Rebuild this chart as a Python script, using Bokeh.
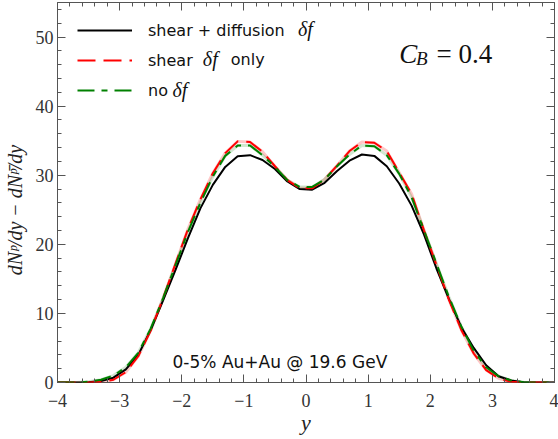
import numpy as np
from bokeh.plotting import figure
from bokeh.models import (Legend, LegendItem, Label, LinearAxis, FixedTicker,
                          Range1d)
from bokeh.embed import file_html
from bokeh.resources import INLINE

# ---- data ----
rapidity = [-4.0, -3.9, -3.7, -3.5, -3.3, -3.1, -2.9, -2.7, -2.5, -2.3, -2.1,
            -1.9, -1.7, -1.5, -1.3, -1.1, -0.9, -0.7, -0.5, -0.3, -0.1,
            0.1, 0.3, 0.5, 0.7, 0.9, 1.1, 1.3, 1.5, 1.7, 1.9,
            2.1, 2.3, 2.5, 2.7, 2.9, 3.1, 3.3, 3.5, 3.7, 3.9, 4.0]

shear_diffusion = [0.0, 0.0, 0.0, 0.05, 0.2, 0.7, 1.9, 4.0, 7.6, 11.9, 16.3,
                   20.9, 25.2, 28.6, 31.2, 32.75, 32.9, 32.2, 30.9, 29.1, 28.0,
                   27.9, 28.9, 30.6, 32.1, 33.0, 32.8, 31.3, 28.8, 25.6, 21.4,
                   16.5, 12.1, 8.0, 5.0, 2.5, 0.9, 0.3, 0.05, 0.0, 0.0, 0.0]

shear_only = [0.0, 0.0, 0.0, 0.0, 0.1, 0.4, 1.5, 3.8, 7.5, 12.2, 17.2,
              22.2, 26.5, 30.3, 33.2, 34.9, 34.8, 33.4, 31.3, 29.3, 28.1,
              28.1, 29.4, 31.4, 33.5, 34.8, 34.7, 33.5, 30.4, 27.3, 22.0,
              17.0, 12.0, 7.6, 4.2, 1.8, 0.6, 0.1, 0.0, 0.0, 0.0, 0.0]

no_df = [0.0, 0.0, 0.0, 0.1, 0.4, 1.0, 2.2, 4.3, 7.8, 12.2, 17.0,
         21.8, 26.0, 29.8, 32.8, 34.3, 34.3, 32.9, 31.2, 29.3, 28.3,
         28.3, 29.4, 31.3, 33.0, 34.3, 34.2, 32.9, 30.2, 26.8, 22.0,
         17.2, 12.4, 8.1, 4.6, 2.2, 0.9, 0.3, 0.05, 0.0, 0.0, 0.0]

x_ticks = [-4, -3, -2, -1, 0, 1, 2, 3, 4]
x_tick_labels = ["−4", "−3", "−2", "−1", "0", "1", "2", "3", "4"]
y_ticks = [0, 10, 20, 30, 40, 50]
y_tick_labels = ["0", "10", "20", "30", "40", "50"]

series_labels = ["shear + diffusion", "shear", "no"]

x_minor = [round(v, 1) for v in np.arange(-4.0, 4.001, 0.2)]
y_minor = list(range(0, 56, 2))

SERIF = "Liberation Serif"
SANS = "DejaVu Sans"
FRAME = "#555555"
TXT = "#111111"

p = figure(width=558, height=439, x_range=Range1d(-4, 4), y_range=Range1d(0, 55),
           output_backend="svg", toolbar_location=None,
           min_border_left=57, min_border_right=4, min_border_top=2,
           min_border_bottom=57)
p.xgrid.visible = False
p.ygrid.visible = False
p.outline_line_color = FRAME
p.outline_line_width = 1
p.background_fill_color = "white"
p.border_fill_color = "white"


def style_axis(ax, ticks, minor, labels=None):
    ax.ticker = FixedTicker(ticks=ticks, minor_ticks=minor)
    ax.axis_line_color = None
    ax.major_tick_line_color = FRAME
    ax.minor_tick_line_color = FRAME
    ax.major_tick_in = 8
    ax.major_tick_out = 0
    ax.minor_tick_in = 4
    ax.minor_tick_out = 0
    if labels is not None:
        ax.major_label_overrides = {t: l for t, l in zip(ticks, labels)}
        ax.major_label_text_font = SERIF
        ax.major_label_text_font_size = "18px"
        ax.major_label_text_color = "#333333"


xa = p.xaxis[0]
style_axis(xa, x_ticks, x_minor, x_tick_labels)
xa.major_label_standoff = 11
xa.axis_label = "y"
xa.axis_label_text_font = SERIF
xa.axis_label_text_font_style = "italic"
xa.axis_label_text_font_size = "22px"
xa.axis_label_text_color = "#222222"
xa.axis_label_standoff = 0

ya = p.yaxis[0]
style_axis(ya, y_ticks, y_minor, y_tick_labels)
ya.major_label_standoff = 4
# trailing no-break spaces re-centre the rotated title (fallback glyphs are
# measured narrower than they are drawn)
ya.axis_label = "dNᵖ/dy − dNᵖ̄/dy" + "\u00a0" * 7
ya.axis_label_text_font = SERIF
ya.axis_label_text_font_style = "italic"
ya.axis_label_text_font_size = "20px"
ya.axis_label_text_color = "#222222"
ya.axis_label_standoff = 7

# mirrored ticks on top and right: label-free axes that only draw minor ticks
for loc, major, minor in (("above", x_ticks, x_minor), ("right", y_ticks, y_minor)):
    for tick_pos, length in ((major, 8), (minor, 4)):
        ax = LinearAxis(ticker=FixedTicker(ticks=[], minor_ticks=tick_pos))
        ax.axis_line_color = None
        ax.major_tick_line_color = None
        ax.minor_tick_line_color = FRAME
        ax.minor_tick_in = length
        ax.minor_tick_out = 0
        ax.major_label_standoff = 0
        ax.major_label_text_font_size = "1px"
        p.add_layout(ax, loc)

# faint bands under the dashed curves
p.line(rapidity, shear_only, line_color="#ff0000", line_alpha=0.22, line_width=3)
p.line(rapidity, no_df, line_color="#008000", line_alpha=0.18, line_width=3)

r_black = p.line(rapidity, shear_diffusion, line_color="black", line_width=2)
r_red = p.line(rapidity, shear_only, line_color="#ff0000", line_width=2,
               line_dash="18 8")
r_green = p.line(rapidity, no_df, line_color="#008000", line_width=2,
                 line_dash="17 7 6 7")

legend = Legend(items=[LegendItem(label=series_labels[0], renderers=[r_black]),
                       LegendItem(label=series_labels[1], renderers=[r_red]),
                       LegendItem(label=series_labels[2], renderers=[r_green])],
                location=(20, 282))
legend.label_text_font = SANS
legend.label_text_font_size = "16px"
legend.label_text_color = TXT
legend.glyph_width = 55
legend.glyph_height = 20
legend.label_height = 20
legend.spacing = 10
legend.padding = 0
legend.margin = 0
legend.label_standoff = 16
legend.border_line_color = None
legend.background_fill_alpha = 0
p.add_layout(legend, "center")

# math parts of legend labels
for xx, yy, t, font, style, size in [(-0.13, 51.1, "δf", SERIF, "italic", "20px"),
                                     (-1.66, 46.8, "δf", SERIF, "italic", "20px"),
                                     (-1.21, 46.8, "only", SANS, "normal", "16px"),
                                     (-2.15, 42.4, "δf", SERIF, "italic", "20px")]:
    p.add_layout(Label(x=xx, y=yy, text=t, text_font=font, text_font_style=style,
                       text_font_size=size, text_color=TXT,
                       text_baseline="alphabetic"))

# C_B = 0.4
p.add_layout(Label(x=1.50, y=47.5, text="C", text_font=SERIF, text_font_style="italic",
                   text_font_size="27px", text_color=TXT, text_baseline="alphabetic"))
p.add_layout(Label(x=1.77, y=46.9, text="B", text_font=SERIF, text_font_style="italic",
                   text_font_size="19px", text_color=TXT, text_baseline="alphabetic"))
p.add_layout(Label(x=2.10, y=47.5, text="= 0.4", text_font=SERIF,
                   text_font_size="27px", text_color=TXT, text_baseline="alphabetic"))

# system label
p.add_layout(Label(x=-0.42, y=2.9, text="0-5% Au+Au @ 19.6 GeV", text_font=SANS,
                   text_font_size="17px", text_color=TXT, text_align="center",
                   text_baseline="alphabetic"))

open("out.html", "w").write(file_html(p, INLINE))
